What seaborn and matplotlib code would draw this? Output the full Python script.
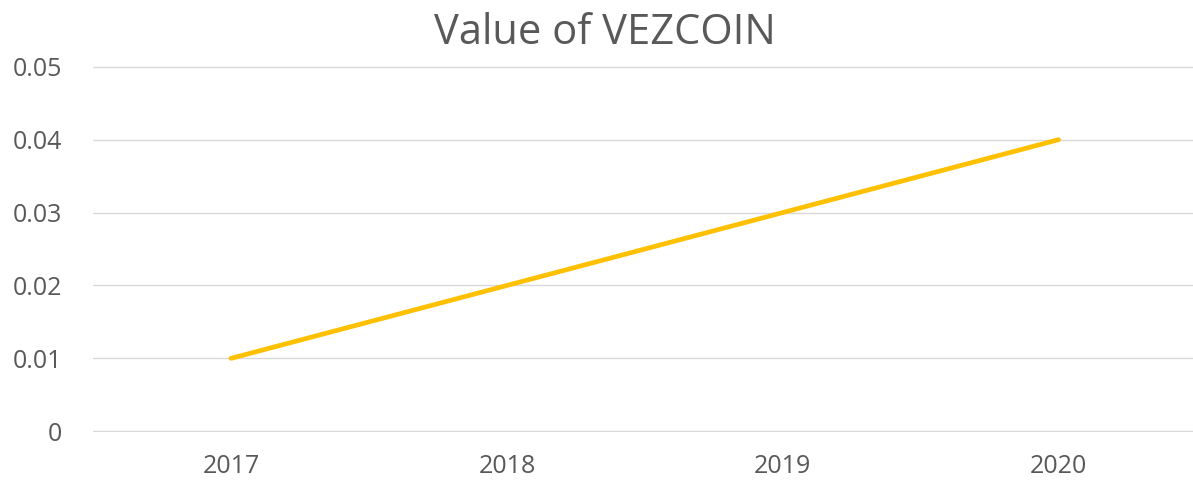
import seaborn as sns
import matplotlib.pyplot as plt
import pandas as pd

# datos del grafico
anios = ["2017", "2018", "2019", "2020"]
valores = [0.01, 0.02, 0.03, 0.04]

df = pd.DataFrame({"anio": anios, "valor": valores})

sns.set_style("white")
plt.rcParams["font.family"] = ["Open Sans", "DejaVu Sans"]

fig = plt.figure(figsize=(11.93, 4.84), dpi=100)
ax = fig.add_axes([0.078, 0.1074, 0.925, 0.7562])

sns.lineplot(data=df, x="anio", y="valor", color="#FFC000", linewidth=3.4, ax=ax, sort=False)

ax.set_xlim(-0.5, 3.5)
ax.set_ylim(-0.0001, 0.0501)
ax.set_yticks([0, 0.01, 0.02, 0.03, 0.04, 0.05])
ax.set_yticklabels(["0", "0.01", "0.02", "0.03", "0.04", "0.05"])
ax.yaxis.grid(True, color="#D9D9D9", linewidth=1)
ax.set_axisbelow(True)
for s in ax.spines.values():
    s.set_visible(False)
ax.tick_params(length=0, labelsize=18, labelcolor="#595959")
ax.tick_params(axis="y", pad=22)
ax.tick_params(axis="x", pad=16)
ax.set_xlabel("")
ax.set_ylabel("")
# el titulo va centrado en la figura, no en los ejes
ax.set_title("Value of VEZCOIN", fontsize=30, color="#595959", pad=16, x=0.464)

plt.savefig("out.png", dpi=100)
